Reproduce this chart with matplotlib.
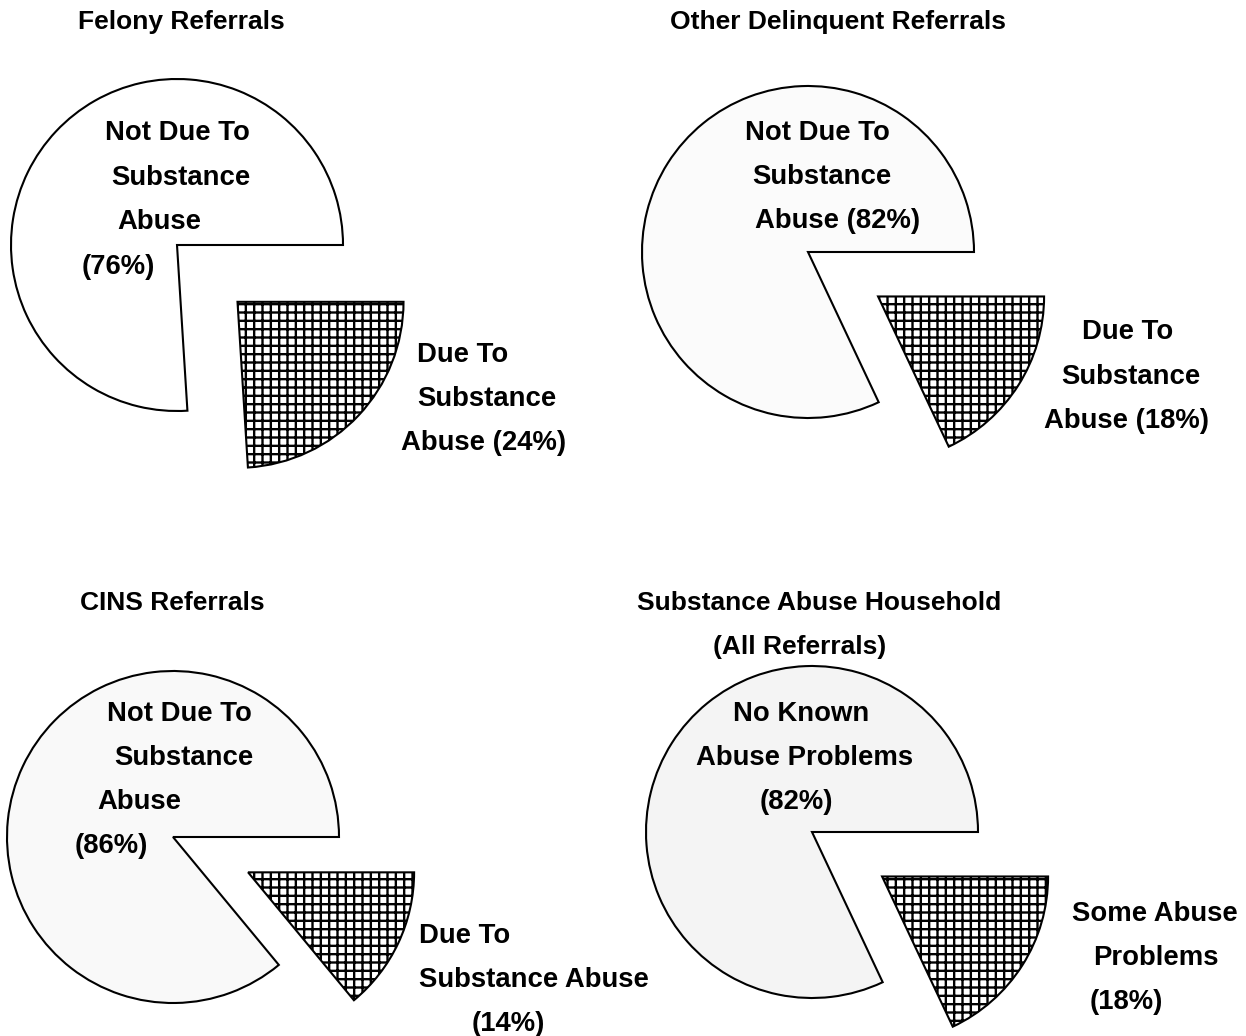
import matplotlib
matplotlib.use("Agg")
import matplotlib.pyplot as plt

W, H = 1246, 1036

# ---- data ----
titles = [["Felony Referrals"],
          ["Other Delinquent Referrals"],
          ["CINS Referrals"],
          ["Substance Abuse Household", "(All Referrals)"]]
small_pct = [24, 18, 14, 18]   # exploded, cross-hatched slice
large_pct = [76, 82, 86, 82]
large_labels = [["Not Due To", "Substance", "Abuse", "({p}%)"],
                ["Not Due To", "Substance", "Abuse ({p}%)"],
                ["Not Due To", "Substance", "Abuse", "({p}%)"],
                ["No Known", "Abuse Problems", "({p}%)"]]
small_labels = [["Due To", "Substance", "Abuse ({p}%)"],
                ["Due To", "Substance", "Abuse ({p}%)"],
                ["Due To", "Substance Abuse", "({p}%)"],
                ["Some Abuse", "Problems", "({p}%)"]]

# ---- layout (pixel positions) ----
centers = [(177, 245), (808, 252), (173, 837), (812, 832)]
radius = 166
title_pos = [[(78, 22)], [(670, 22)], [(80, 603)], [(637, 603), (713, 647)]]
large_pos = [[(105, 133), (111, 178), (117, 222), (82, 267)],
             [(745, 133), (752, 177), (755, 221)],
             [(107, 714), (114, 758), (97, 802), (75, 846)],
             [(733, 714), (696, 758), (760, 802)]]
small_pos = [[(417, 355), (417, 399), (401, 443)],
             [(1082, 332), (1061, 377), (1044, 421)],
             [(419, 936), (419, 980), (472, 1024)],
             [(1072, 914), (1093, 958), (1090, 1002)]]
large_face = ["#ffffff", "#fbfbfb", "#f9f9f9", "#f4f4f4"]

plt.rcParams["hatch.linewidth"] = 1.7
fig = plt.figure(figsize=(W / 100, H / 100), dpi=100)
ax = fig.add_axes([0, 0, 1, 1])

base = dict(family=["Liberation Sans", "DejaVu Sans"], fontweight="bold",
            color="black", ha="left", va="center")

for i in range(4):
    cx, cy = centers[i]
    wedges, _ = ax.pie([small_pct[i], large_pct[i]],
                       explode=[0.5 * radius, 0],
                       startangle=0, counterclock=False,
                       center=(cx, H - cy), radius=radius,
                       colors=["white", large_face[i]],
                       wedgeprops=dict(edgecolor="black", linewidth=1.5))
    wedges[0].set_hatch("++")
    for txt, (x, y) in zip(titles[i], title_pos[i]):
        ax.text(x, H - y, txt, fontsize=19, **base)
    for txt, (x, y) in zip(large_labels[i], large_pos[i]):
        ax.text(x, H - y, txt.format(p=large_pct[i]), fontsize=19.8, **base)
    for txt, (x, y) in zip(small_labels[i], small_pos[i]):
        ax.text(x, H - y, txt.format(p=small_pct[i]), fontsize=19.8, **base)

ax.set_xlim(0, W)
ax.set_ylim(0, H)
ax.set_aspect("equal")
ax.axis("off")
fig.savefig("out.png", dpi=100, facecolor="white")
